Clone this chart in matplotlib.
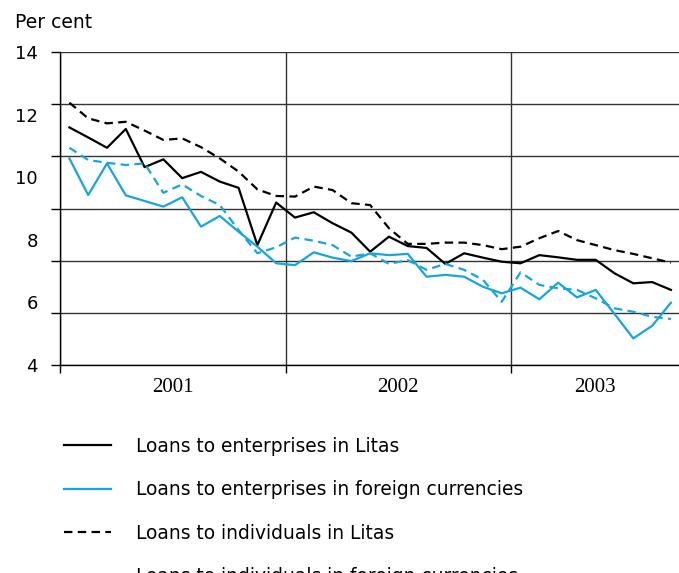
import numpy as np
import matplotlib
matplotlib.use('Agg')
import matplotlib.pyplot as plt

# monthly data, Jan 2001 .. Sep 2003 (per cent)
ent_litas = [11.59, 11.27, 10.94, 11.54, 10.32, 10.57, 9.97, 10.17, 9.86, 9.66, 7.83, 9.19,
             8.71, 8.88, 8.53, 8.23, 7.62, 8.10, 7.80, 7.74, 7.23, 7.57, 7.43, 7.30,
             7.25, 7.51, 7.44, 7.36, 7.36, 6.93, 6.61, 6.65, 6.40]
ent_foreign = [10.60, 9.43, 10.44, 9.42, 9.24, 9.06, 9.36, 8.42, 8.76, 8.26, 7.78, 7.25,
               7.19, 7.60, 7.43, 7.32, 7.57, 7.51, 7.55, 6.82, 6.88, 6.82, 6.50, 6.29,
               6.47, 6.10, 6.63, 6.16, 6.40, 5.63, 4.85, 5.25, 5.99]
ind_litas = [12.38, 11.88, 11.72, 11.77, 11.49, 11.19, 11.24, 10.96, 10.60, 10.18, 9.61, 9.40,
             9.38, 9.70, 9.59, 9.17, 9.11, 8.37, 7.87, 7.87, 7.91, 7.91, 7.83, 7.70,
             7.78, 8.05, 8.28, 7.99, 7.83, 7.67, 7.55, 7.41, 7.27]
ind_foreign = [10.94, 10.55, 10.46, 10.39, 10.44, 9.50, 9.77, 9.40, 9.11, 8.31, 7.57, 7.76,
               8.07, 7.97, 7.83, 7.46, 7.57, 7.23, 7.35, 7.04, 7.23, 7.04, 6.72, 6.02,
               6.96, 6.56, 6.45, 6.40, 6.13, 5.81, 5.70, 5.54, 5.47]
years = [2001, 2002, 2003]
y_labels = [4, 6, 8, 10, 12, 14]

x = 2001 + (np.arange(len(ent_litas)) + 0.5) / 12

BLUE = '#14a6e0'
DASH = (0, (3.8, 2.4))

fig = plt.figure(figsize=(6.79, 5.73), dpi=100)
ax = fig.add_axes([60 / 679, 1 - 365 / 573, 619 / 679, 313 / 573])

ax.plot(x, ent_litas, color='black', lw=1.6, label='Loans to enterprises in Litas')
ax.plot(x, ent_foreign, color=BLUE, lw=1.6, label='Loans to enterprises in foreign currencies')
ax.plot(x, ind_litas, color='black', lw=1.6, ls=DASH, label='Loans to individuals in Litas')
ax.plot(x, ind_foreign, color=BLUE, lw=1.6, ls=DASH, label='Loans to individuals in foreign currencies')

ax.set_xlim(2001, 2001 + 32.93 / 12)
ax.set_ylim(4, 14)

# 7 gridlines with tick marks; the 4..14 labels sit on their own (minor) ticks
ax.yaxis.remove_overlapping_locs = False
ax.set_yticks(np.linspace(4, 14, 7))
ax.set_yticklabels([])
ax.set_yticks(y_labels, minor=True)
ax.set_yticklabels([str(v) for v in y_labels], minor=True, fontsize=13)
ax.tick_params(axis='y', which='major', direction='out', length=6.5, width=1, color='black')
ax.tick_params(axis='y', which='minor', length=0, pad=16)

ax.set_xticks(years)
ax.set_xticklabels([])
ax.set_xticks([2001.5, 2002.5, 2003.37], minor=True)
ax.set_xticklabels([str(y) for y in years], minor=True, fontsize=15, family='Liberation Serif')
ax.tick_params(axis='x', which='major', direction='out', length=6, width=1, color='black')
ax.tick_params(axis='x', which='minor', length=0, pad=9)

ax.grid(True, which='major', color='#333333', lw=1.0)
ax.set_axisbelow(True)
for s in ['top', 'right']:
    ax.spines[s].set_visible(False)
ax.spines['left'].set_linewidth(1.0)
ax.spines['bottom'].set_linewidth(1.0)

fig.text(15 / 679, 1 - 22 / 573, 'Per cent', fontsize=13.5, va='center', ha='left')

fig.legend(loc='upper left', bbox_to_anchor=(64 / 679, 1 - 437 / 573), frameon=False,
           fontsize=13.4, handlelength=2.55, handletextpad=1.3, labelspacing=1.31,
           borderpad=0, borderaxespad=0)

fig.savefig('out.png', dpi=100)
